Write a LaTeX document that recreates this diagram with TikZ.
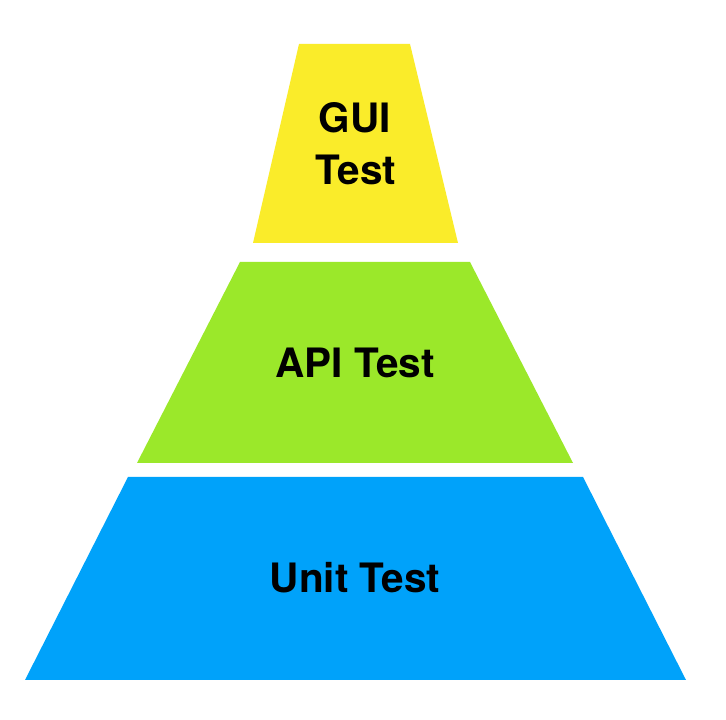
\documentclass[tikz,border=0pt]{standalone}
\usepackage{fontspec}
\setmainfont{TeX Gyre Heros}
\definecolor{guiyellow}{RGB}{250,236,42}
\definecolor{apigreen}{RGB}{155,232,42}
\definecolor{unitblue}{RGB}{0,162,250}
\begin{document}
\begin{tikzpicture}[x=1pt,y=1pt,
  layer/.style={draw=none},
  lbl/.style={font=\bfseries\fontsize{40.5}{42}\selectfont, text=black, inner sep=0pt, anchor=base}]
\useasboundingbox (0,0) rectangle (726,720);
\fill[white] (0,0) rectangle (726,720);
% GUI layer
\fill[guiyellow,layer] (299,676) -- (410,676) -- (458,477) -- (253,477) -- cycle;
% API layer
\fill[apigreen,layer] (240,458) -- (470,458) -- (573,257) -- (137,257) -- cycle;
% Unit layer
\fill[unitblue,layer] (128,243) -- (583,243) -- (686,40) -- (25,40) -- cycle;
\node[lbl] (gui1) at (355,587) {GUI};
\node[lbl] (gui2) at (356,535) {Test};
\node[lbl] (api) at (355,342) {API Test};
\node[lbl] (unit) at (355,127) {Unit Test};
\end{tikzpicture}
\end{document}
